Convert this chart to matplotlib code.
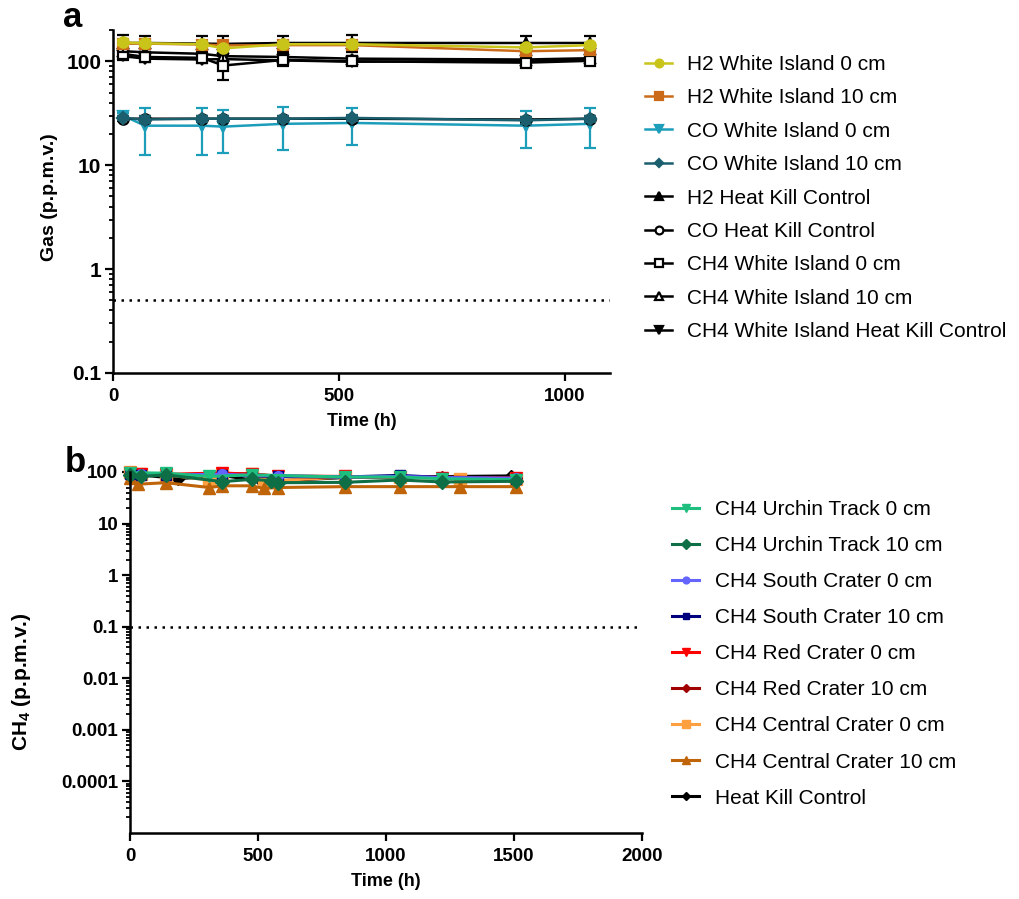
import matplotlib
matplotlib.use("Agg")
import matplotlib.pyplot as plt
from matplotlib.ticker import FixedLocator, FuncFormatter, LogLocator, NullFormatter

plt.rcParams['font.family'] = ['Liberation Sans', 'DejaVu Sans']
plt.rcParams['mathtext.fontset'] = 'custom'
plt.rcParams['mathtext.rm'] = 'Liberation Sans'
plt.rcParams['mathtext.bf'] = 'Liberation Sans:bold'

# ---- panel a data (hours, p.p.m.v.) ----
time_a = [22, 71, 197, 244, 377, 530, 913, 1055]

h2_wi0 = [152, 149, 146, 133, 146, 146, 136, 143]
h2_wi0_err = [8, 8, 8, 8, 8, 8, 8, 8]
h2_wi10 = [148, 148, 145, 142, 143, 143, 125, 128]
h2_wi10_err = [8, 8, 8, 8, 8, 8, 8, 8]
co_wi0 = [30, 24, 24, 23.5, 25, 25.5, 24, 25]
co_wi0_err = [2, 11.5, 11.5, 10.5, 11, 10, 9.5, 10.5]
co_wi10 = [28.5, 27.5, 28, 28, 28, 28.5, 27, 28]
co_wi10_err = [1.5, 2, 2, 2, 2, 2, 2, 2]
h2_hkc = [150, 150, 148, 147, 150, 150, 150, 150]
h2_hkc_err = [28, 26, 27, 28, 26, 28, 25, 27]
co_hkc = [28, 28, 28, 28, 28, 28, 27.5, 28]
co_hkc_err = [1.5, 1.5, 1.5, 1.5, 1.5, 1.5, 1.5, 1.5]
ch4_wi0 = [118, 110, 108, 91, 103, 100, 97, 101]
ch4_wi0_err = [10, 8, 8, 25, 8, 6, 6, 6]
ch4_wi10 = [125, 122, 118, 112, 110, 106, 104, 107]
ch4_wi10_err = [10, 10, 8, 8, 8, 6, 6, 6]
ch4_hkc = [112, 106, 104, 105, 102, 99, 101, 103]
ch4_hkc_err = [10, 8, 8, 8, 12, 6, 6, 6]

labels_a = ['H2 White Island 0 cm', 'H2 White Island 10 cm', 'CO White Island 0 cm',
            'CO White Island 10 cm', 'H2 Heat Kill Control', 'CO Heat Kill Control',
            'CH4 White Island 0 cm', 'CH4 White Island 10 cm',
            'CH4 White Island Heat Kill Control']
detect_a = 0.5

# ---- panel b data ----
t_ut0 = [0, 141, 310, 475, 838, 1055, 1220, 1506]
ut0 = [97, 95, 82, 88, 80, 80, 74, 71]
t_ut10 = [0, 43, 141, 361, 475, 549, 577, 838, 1055, 1220, 1506]
ut10 = [88, 82, 88, 65, 72, 68, 62, 63, 70, 64, 66]
t_sc = [0, 43, 141, 361, 475, 577, 838, 1055, 1220, 1506]
sc0 = [92, 90, 88, 90, 86, 85, 80, 82, 78, 76]
sc10 = [90, 88, 86, 88, 84, 82, 80, 86, 78, 74]
red0 = [95, 92, 90, 96, 90, 84, 82, 80, 78, 76]
red10 = [93, 90, 88, 93, 92, 82, 80, 82, 80, 76]
t_cc0 = [0, 43, 141, 310, 361, 475, 522, 838, 1055, 1290, 1506]
cc0 = [98, 92, 88, 70, 90, 92, 66, 80, 80, 74, 72]
t_cc10 = [0, 30, 141, 310, 361, 475, 522, 577, 838, 1055, 1290, 1506]
cc10 = [75, 58, 62, 50, 54, 54, 48, 50, 52, 52, 52, 52]
t_hk = [0, 43, 188, 361, 514, 838, 1055, 1490]
hk = [90, 88, 74, 86, 65, 78, 80, 84]

labels_b = ['CH4 Urchin Track 0 cm', 'CH4 Urchin Track 10 cm', 'CH4 South Crater 0 cm',
            'CH4 South Crater 10 cm', 'CH4 Red Crater 0 cm', 'CH4 Red Crater 10 cm',
            'CH4 Central Crater 0 cm', 'CH4 Central Crater 10 cm', 'Heat Kill Control']
detect_b = 0.1

W, H = 1019, 899
fig = plt.figure(figsize=(W / 100, H / 100), dpi=100)


def style_axes(ax, xsize, ysize):
    for s in ['top', 'right']:
        ax.spines[s].set_visible(False)
    for s in ['left', 'bottom']:
        ax.spines[s].set_linewidth(1.8)
    ax.tick_params(which='major', direction='out', length=5.5, width=1.6, pad=3)
    ax.tick_params(which='minor', direction='out', length=3, width=1.3)
    ax.tick_params(axis='x', labelsize=xsize, pad=5)
    ax.tick_params(axis='y', labelsize=ysize)
    for lab in ax.get_xticklabels() + ax.get_yticklabels():
        lab.set_fontweight('bold')


# ================= panel a =================
axa = fig.add_axes([113 / W, 1 - 373 / H, (610 - 113) / W, (373 - 30) / H])
axa.set_yscale('log')

series_a = [
    # y, err, color, marker, mfc, label index
    (ch4_hkc, ch4_hkc_err, 'black', 'v', 'black', 8),
    (ch4_wi10, ch4_wi10_err, 'black', '^', 'white', 7),
    (ch4_wi0, ch4_wi0_err, 'black', 's', 'white', 6),
    (h2_hkc, h2_hkc_err, 'black', '^', 'black', 4),
    (co_wi0, co_wi0_err, '#1C9DBA', 'v', '#1C9DBA', 2),
    (co_hkc, co_hkc_err, 'black', 'o', 'white', 5),
    (co_wi10, co_wi10_err, '#1B5F6E', 'D', '#1B5F6E', 3),
    (h2_wi10, h2_wi10_err, '#CB6B19', 's', '#CB6B19', 1),
    (h2_wi0, h2_wi0_err, '#C9C41A', 'o', '#C9C41A', 0),
]
handles_a = [None] * 9
for y, err, c, m, mfc, idx in series_a:
    axa.errorbar(time_a, y, yerr=err, fmt='none', ecolor=c, elinewidth=1.6,
                 capsize=4, capthick=1.6, clip_on=False)
    ms = 6 if m == 'D' else 7.5
    ln, = axa.plot(time_a, y, color=c, marker=m, markersize=ms, mfc=mfc, mec=c,
                   mew=1.6, lw=1.8, label=labels_a[idx], clip_on=False)
    handles_a[idx] = ln

axa.axhline(detect_a, color='black', lw=1.8, ls=(0, (1, 2.2)))
axa.set_xlim(0, 1100)
axa.set_ylim(0.1, 200)
axa.xaxis.set_major_locator(FixedLocator([0, 500, 1000]))
axa.yaxis.set_major_locator(FixedLocator([0.1, 1, 10, 100]))
axa.yaxis.set_minor_locator(LogLocator(base=10, subs=range(2, 10)))
axa.yaxis.set_minor_formatter(NullFormatter())
axa.yaxis.set_major_formatter(FuncFormatter(lambda v, p: '%g' % v))
style_axes(axa, 13.5, 15)
axa.set_xlabel('Time (h)', fontsize=13, fontweight='bold', labelpad=6)
axa.set_ylabel('Gas (p.p.m.v.)', fontsize=14, fontweight='bold')
axa.yaxis.set_label_coords(-0.11, 0.513)

fig.legend(handles=handles_a, loc='upper left', bbox_to_anchor=(645 / W, 1 - 55 / H),
           frameon=False, fontsize=15, borderpad=0, borderaxespad=0,
           handlelength=1.3, handletextpad=0.7, labelspacing=0.69, markerscale=0.75)

fig.text(63 / W, 1 - 27 / H, 'a', fontsize=25, fontweight='bold', va='baseline')

# ================= panel b =================
axb = fig.add_axes([130 / W, 1 - 833 / H, (642 - 130) / W, (833 - 472) / H])
axb.set_yscale('log')

series_b = [
    (t_hk, hk, 'black', 'D', 6, 8),
    (t_cc0, cc0, '#FFA040', 's', 8, 6),
    (t_cc10, cc10, '#C0640A', '^', 9, 7),
    (t_sc, red10, '#A00000', 'D', 6, 5),
    (t_sc, red0, '#FF0000', 'v', 8, 4),
    (t_sc, sc10, '#00007F', 's', 7, 3),
    (t_sc, sc0, '#6464FF', 'o', 7, 2),
    (t_ut0, ut0, '#1DBE7E', 'v', 9, 0),
    (t_ut10, ut10, '#0E6E45', 'D', 7, 1),
]
handles_b = [None] * 9
for t, y, c, m, ms, idx in series_b:
    ln, = axb.plot(t, y, color=c, marker=m, markersize=ms, mfc=c, mec=c, lw=2.2,
                   label=labels_b[idx], clip_on=False)
    handles_b[idx] = ln

axb.axhline(detect_b, color='black', lw=1.8, ls=(0, (1, 2.2)))
axb.set_xlim(0, 2000)
axb.set_ylim(1e-5, 100)
axb.xaxis.set_major_locator(FixedLocator([0, 500, 1000, 1500, 2000]))
axb.yaxis.set_major_locator(FixedLocator([1e-4, 1e-3, 1e-2, 0.1, 1, 10, 100]))
axb.yaxis.set_minor_locator(LogLocator(base=10, subs=range(2, 10)))
axb.yaxis.set_minor_formatter(NullFormatter())
axb.yaxis.set_major_formatter(FuncFormatter(lambda v, p: '%g' % v))
style_axes(axb, 13.5, 13.5)
axb.set_xlabel('Time (h)', fontsize=13, fontweight='bold', labelpad=6)
axb.set_ylabel(r'CH$_\mathbf{4}$ (p.p.m.v.)', fontsize=15, fontweight='bold')
axb.yaxis.set_label_coords(-0.19, 0.42)

fig.legend(handles=handles_b, loc='upper left', bbox_to_anchor=(672 / W, 1 - 500 / H),
           frameon=False, fontsize=15, borderpad=0, borderaxespad=0,
           handlelength=1.3, handletextpad=0.75, labelspacing=0.82, markerscale=0.7)

fig.text(65 / W, 1 - 472 / H, 'b', fontsize=25, fontweight='bold', va='baseline')

fig.savefig('out.png', dpi=100)
